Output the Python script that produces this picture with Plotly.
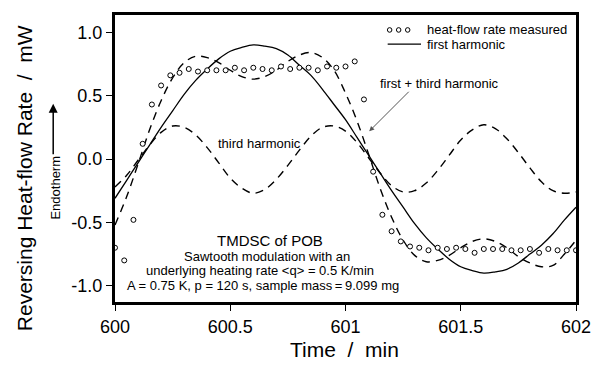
import plotly.graph_objects as go

# ---------------- data ----------------
t_measured = [600.00, 600.04, 600.08, 600.12, 600.16, 600.20, 600.24, 600.28, 600.32, 600.36,
              600.40, 600.44, 600.48, 600.52, 600.56, 600.60, 600.64, 600.68, 600.72, 600.76,
              600.80, 600.84, 600.88, 600.92, 600.96, 601.00, 601.04, 601.08, 601.12, 601.16,
              601.20, 601.24, 601.28, 601.32, 601.36, 601.40, 601.44, 601.48, 601.52, 601.56,
              601.60, 601.64, 601.68, 601.72, 601.76, 601.80, 601.84, 601.88, 601.92, 601.96,
              602.00]
hf_measured = [-0.70, -0.80, -0.48, 0.12, 0.43, 0.58, 0.66, 0.68, 0.71, 0.69,
               0.70, 0.70, 0.70, 0.72, 0.70, 0.72, 0.71, 0.70, 0.73, 0.71,
               0.72, 0.72, 0.70, 0.73, 0.72, 0.73, 0.77, 0.47, -0.10, -0.44,
               -0.57, -0.65, -0.69, -0.70, -0.72, -0.70, -0.71, -0.70, -0.71, -0.74,
               -0.71, -0.71, -0.71, -0.72, -0.72, -0.71, -0.74, -0.71, -0.72, -0.72,
               -0.72]

t_harm = [600.00, 600.05, 600.10, 600.15, 600.20, 600.25, 600.30, 600.35, 600.40, 600.45,
          600.50, 600.55, 600.60, 600.65, 600.70, 600.75, 600.80, 600.85, 600.90, 600.95,
          601.00, 601.05, 601.10, 601.15, 601.20, 601.25, 601.30, 601.35, 601.40, 601.45,
          601.50, 601.55, 601.60, 601.65, 601.70, 601.75, 601.80, 601.85, 601.90, 601.95,
          602.00]
first_harmonic = [-0.31, -0.17, -0.03, 0.11, 0.25, 0.38, 0.51, 0.62, 0.71, 0.79,
                  0.85, 0.88, 0.90, 0.89, 0.87, 0.82, 0.74, 0.66, 0.55, 0.43,
                  0.31, 0.17, 0.03, -0.11, -0.25, -0.38, -0.51, -0.62, -0.71, -0.79,
                  -0.85, -0.88, -0.90, -0.89, -0.87, -0.82, -0.75, -0.68, -0.59, -0.48,
                  -0.38]
third_harmonic = [-0.22, -0.13, -0.01, 0.11, 0.21, 0.26, 0.25, 0.19, 0.09, -0.03,
                  -0.15, -0.23, -0.27, -0.24, -0.16, -0.05, 0.07, 0.18, 0.25, 0.26,
                  0.22, 0.13, 0.01, -0.11, -0.21, -0.26, -0.25, -0.19, -0.09, 0.03,
                  0.15, 0.23, 0.27, 0.24, 0.16, 0.05, -0.07, -0.18, -0.25, -0.27,
                  -0.26]
first_plus_third = [-0.52, -0.30, -0.04, 0.23, 0.46, 0.64, 0.76, 0.81, 0.80, 0.76,
                    0.70, 0.65, 0.63, 0.65, 0.70, 0.77, 0.82, 0.84, 0.80, 0.70,
                    0.52, 0.30, 0.04, -0.23, -0.46, -0.64, -0.76, -0.81, -0.80, -0.76,
                    -0.70, -0.65, -0.63, -0.65, -0.70, -0.77, -0.82, -0.85, -0.84, -0.75,
                    -0.64]

x_ticks = [600, 600.5, 601, 601.5, 602]
x_tick_labels = ["600", "600.5", "601", "601.5", "602"]
y_ticks = [-1.0, -0.5, 0.0, 0.5, 1.0]
y_tick_labels = ["-1.0", "-0.5", "0.0", "0.5", "1.0"]

# ---------------- figure ----------------
FONT = "Arial, 'Liberation Sans', sans-serif"
W, H = 603, 365
L, R, T, B = 115, 18, 14, 63
PW, PH = W - L - R, H - T - B


def px(xp):
    return (xp - L) / PW


def py(yp):
    return (H - B - yp) / PH


fig = go.Figure()
fig.add_trace(go.Scatter(x=t_harm, y=third_harmonic, mode="lines", line_shape="spline",
                         line=dict(color="black", width=1.4, dash="8px,6px"),
                         name="third harmonic"))
fig.add_trace(go.Scatter(x=t_harm, y=first_plus_third, mode="lines", line_shape="spline",
                         line=dict(color="black", width=1.4, dash="8px,6px"),
                         name="first + third harmonic"))
fig.add_trace(go.Scatter(x=t_harm, y=first_harmonic, mode="lines", line_shape="spline",
                         line=dict(color="black", width=1.3), name="first harmonic"))
fig.add_trace(go.Scatter(x=t_measured, y=hf_measured, mode="markers", cliponaxis=False,
                         marker=dict(symbol="circle", size=5, color="white",
                                     line=dict(color="black", width=1)),
                         name="heat-flow rate measured"))

axis_common = dict(ticks="outside", ticklen=6, tickwidth=1, tickcolor="black",
                   showline=True, linewidth=3, linecolor="black", mirror=True,
                   showgrid=False, zeroline=False,
                   tickfont=dict(family=FONT, size=18, color="black"))
fig.update_xaxes(range=[600, 602], tickvals=x_ticks, ticktext=x_tick_labels, **axis_common)
fig.update_yaxes(range=[-1.128, 1.136], tickvals=y_ticks, ticktext=y_tick_labels, **axis_common)

ann = []
txt = dict(family=FONT, color="black")
# axis titles
ann.append(dict(xref="paper", yref="paper", x=px(23), y=py(178), text="Reversing Heat-flow Rate\u00a0\u00a0/\u00a0\u00a0mW",
                textangle=-90, showarrow=False, font=dict(size=21, **txt),
                xanchor="center", yanchor="middle"))
ann.append(dict(xref="paper", yref="paper", x=px(349), y=py(350), text="Time\u00a0\u00a0/\u00a0\u00a0min",
                showarrow=False, font=dict(size=21, **txt), xanchor="center", yanchor="middle"))
# Endotherm with arrow
ann.append(dict(xref="paper", yref="paper", x=px(54), y=py(187), text="Endotherm", textangle=-90,
                showarrow=False, font=dict(size=13, **txt), xanchor="center", yanchor="middle"))
ann.append(dict(xref="paper", yref="paper", x=px(52), y=py(103), text="",
                showarrow=True, axref="pixel", ayref="pixel", ax=0, ay=52, arrowhead=2,
                arrowsize=1.2, arrowwidth=1.5, arrowcolor="black"))
# curve labels
ann.append(dict(xref="paper", yref="paper", x=px(262.5), y=py(142.7), text="third harmonic",
                showarrow=False, font=dict(size=13, **txt), xanchor="center", yanchor="middle"))
ann.append(dict(xref="paper", yref="paper", x=px(446), y=py(82.7), text="first + third harmonic",
                showarrow=False, font=dict(size=13, **txt), xanchor="center", yanchor="middle"))
ann.append(dict(xref="x", yref="y", x=601.103, y=0.219, text="", showarrow=True,
                ax=41, ay=-41, arrowhead=2, arrowsize=1, arrowwidth=1, arrowcolor="#555555"))
# info block
ann.append(dict(xref="paper", yref="paper", x=px(273), y=py(240), text="TMDSC of POB",
                showarrow=False, font=dict(size=15, **txt), xanchor="center", yanchor="middle"))
ann.append(dict(xref="paper", yref="paper", x=px(270), y=py(256.7), text="Sawtooth modulation with an",
                showarrow=False, font=dict(size=13, **txt), xanchor="center", yanchor="middle"))
ann.append(dict(xref="paper", yref="paper", x=px(263), y=py(270.7),
                text="underlying heating rate &lt;q&gt; = 0.5 K/min",
                showarrow=False, font=dict(size=13, **txt), xanchor="center", yanchor="middle"))
ann.append(dict(xref="paper", yref="paper", x=px(266), y=py(285.5),
                text="A = 0.75 K, p = 120 s, sample mass\u2009=\u20099.099 mg",
                showarrow=False, font=dict(size=13, **txt), xanchor="center", yanchor="middle"))
# legend texts
ann.append(dict(xref="paper", yref="paper", x=px(431), y=py(29), text="heat-flow rate measured",
                showarrow=False, font=dict(size=13, **txt), xanchor="left", yanchor="middle"))
ann.append(dict(xref="paper", yref="paper", x=px(431), y=py(43.3), text="first harmonic",
                showarrow=False, font=dict(size=13, **txt), xanchor="left", yanchor="middle"))

shapes = []
for cx in (395, 404.2, 413.4):
    shapes.append(dict(type="circle", xref="paper", yref="paper",
                       x0=px(cx - 2.3), x1=px(cx + 2.3), y0=py(29 + 2.3), y1=py(29 - 2.3),
                       line=dict(color="black", width=1), fillcolor="white"))
shapes.append(dict(type="line", xref="paper", yref="paper", x0=px(393), x1=px(427),
                   y0=py(43.3), y1=py(43.3), line=dict(color="black", width=1.3)))

fig.update_layout(width=W, height=H, margin=dict(l=L, r=R, t=T, b=B),
                  paper_bgcolor="white", plot_bgcolor="white", showlegend=False,
                  font=dict(family=FONT, color="black"),
                  annotations=ann, shapes=shapes)

fig.write_html("out.html")
